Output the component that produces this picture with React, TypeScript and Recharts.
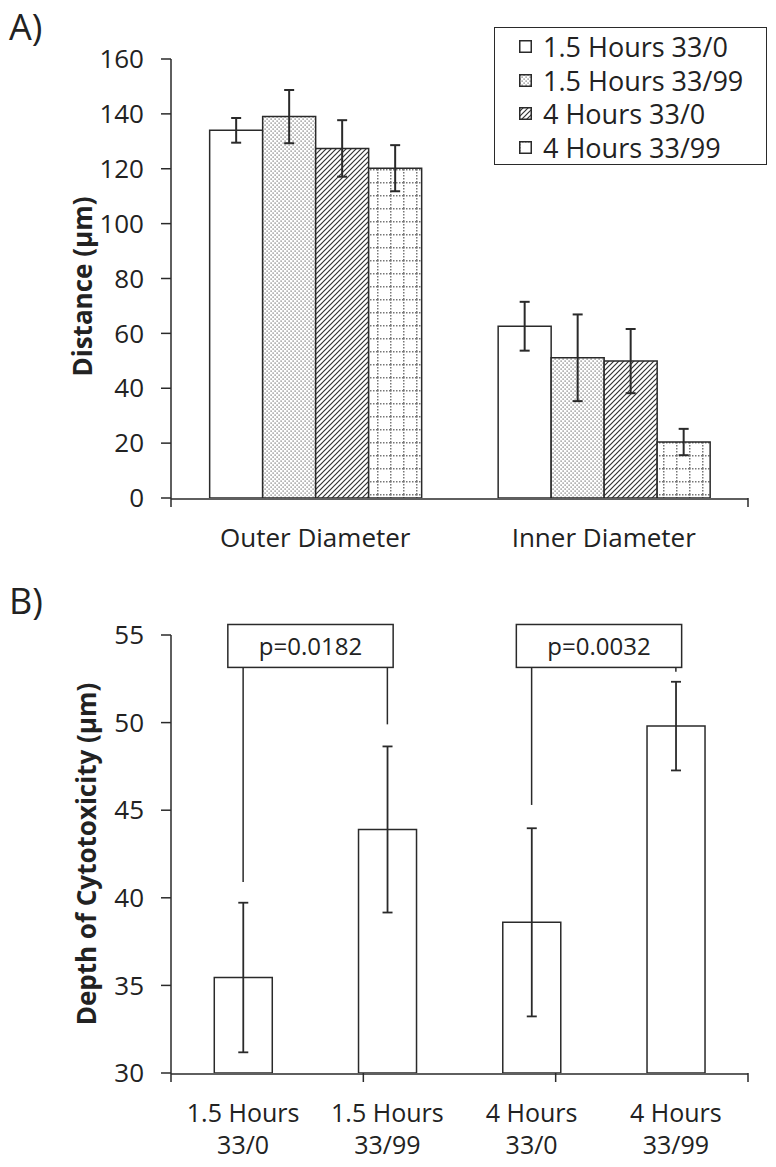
import React from "react";
import {
  BarChart,
  Bar,
  XAxis,
  YAxis,
  ErrorBar,
  Legend,
  ReferenceLine,
  ReferenceArea,
} from "recharts";

const FONT = '"Open Sans", "Noto Sans", sans-serif';
const INK = "#2a2a2a";
const TEXT = "#222";

// Panel A: distance by diameter
const DIAMETERS = ["Outer Diameter", "Inner Diameter"];
const SERIES = ["1.5 Hours 33/0", "1.5 Hours 33/99", "4 Hours 33/0", "4 Hours 33/99"];
const MEAN_15H_0 = [134.0, 62.6];
const ERR_15H_0 = [4.5, 8.9];
const MEAN_15H_99 = [139.0, 51.1];
const ERR_15H_99 = [9.7, 15.8];
const MEAN_4H_0 = [127.4, 49.9];
const ERR_4H_0 = [10.3, 11.7];
const MEAN_4H_99 = [120.2, 20.4];
const ERR_4H_99 = [8.4, 4.8];
const DISTANCE_TICKS = [0, 20, 40, 60, 80, 100, 120, 140, 160];

// Panel B: depth of cytotoxicity
const COND_HOURS = ["1.5 Hours", "1.5 Hours", "4 Hours", "4 Hours"];
const COND_RATIO = ["33/0", "33/99", "33/0", "33/99"];
const DEPTH = [35.45, 43.9, 38.6, 49.8];
const DEPTH_ERR = [4.27, 4.74, 5.37, 2.53];
const DEPTH_TICKS = [30, 35, 40, 45, 50, 55];

// significance brackets: line ends are in data units
const COMPARISONS = [
  { from: 0, to: 1, label: "p=0.0182", leftEnd: 40.9, rightEnd: 49.9 },
  { from: 2, to: 3, label: "p=0.0032", leftEnd: 45.3, rightEnd: 52.9 },
];
const P_BOX = [53.15, 55.6];

const FILLS = ["#fff", "url(#pat-dots)", "url(#pat-hatch)", "url(#pat-grid)"];
const KEYS = ["m0", "m1", "m2", "m3"];

const distanceData = DIAMETERS.map((name, i) => ({
  name,
  m0: MEAN_15H_0[i],
  e0: ERR_15H_0[i],
  m1: MEAN_15H_99[i],
  e1: ERR_15H_99[i],
  m2: MEAN_4H_0[i],
  e2: ERR_4H_0[i],
  m3: MEAN_4H_99[i],
  e3: ERR_4H_99[i],
}));

const conditions = COND_HOURS.map((h, i) => `${h} ${COND_RATIO[i]}`);
const depthData = conditions.map((name, i) => ({
  name,
  depth: DEPTH[i],
  err: DEPTH_ERR[i],
}));

function Patterns() {
  return (
    <defs>
      <pattern id="pat-dots" width="4" height="4" patternUnits="userSpaceOnUse">
        <rect width="4" height="4" fill="#fff" />
        <rect x="0.5" y="0.5" width="1.2" height="1.2" fill="#666" />
        <rect x="2.5" y="2.5" width="1.2" height="1.2" fill="#666" />
      </pattern>
      <pattern id="pat-hatch" width="5" height="5" patternUnits="userSpaceOnUse">
        <rect width="5" height="5" fill="#fff" />
        <path d="M-1,1 L1,-1 M0,5 L5,0 M4,6 L6,4" stroke="#333" strokeWidth="1.2" />
      </pattern>
      <pattern id="pat-grid" width="13" height="13" patternUnits="userSpaceOnUse">
        <rect width="13" height="13" fill="#fff" />
        <line x1="0.75" y1="0" x2="0.75" y2="13" stroke="#777" strokeWidth="1.5" strokeDasharray="1.5 1.5" />
        <line x1="0" y1="0.75" x2="13" y2="0.75" stroke="#777" strokeWidth="1.5" strokeDasharray="1.5 1.5" />
      </pattern>
    </defs>
  );
}

function AxisTitle({ viewBox, x, text, dy = 0 }: any) {
  const cy = viewBox.y + viewBox.height / 2 + dy;
  return (
    <text
      x={x}
      y={cy}
      transform={`rotate(-90, ${x}, ${cy})`}
      textAnchor="middle"
      dominantBaseline="central"
      fontFamily={FONT}
      fontWeight="bold"
      fontSize={26}
      fill={TEXT}
    >
      {text}
    </text>
  );
}

function LegendBox({ payload }: any) {
  const items = payload && payload.length ? payload : SERIES.map((value, i) => ({ value, color: FILLS[i] }));
  return (
    <div
      style={{
        border: `1.5px solid ${INK}`,
        boxSizing: "border-box",
        width: 273,
        height: 138,
        padding: "2px 0 0 24px",
        fontFamily: FONT,
        fontSize: 27,
        color: TEXT,
        background: "#fff",
      }}
    >
      {items.map((entry: any, i: number) => (
        <div key={entry.value} style={{ display: "flex", alignItems: "center", height: 33.5 }}>
          <svg width={13} height={13} style={{ marginRight: 11, flex: "none" }}>
            <rect x={0.75} y={0.75} width={11.5} height={11.5} fill={FILLS[i]} stroke={INK} strokeWidth={1.5} />
          </svg>
          <span style={{ lineHeight: 1, whiteSpace: "nowrap" }}>{entry.value}</span>
        </div>
      ))}
    </div>
  );
}

function ConditionTick({ x, y, index }: any) {
  return (
    <text x={x} y={y} textAnchor="middle" fill={TEXT} fontSize={25} fontFamily={FONT}>
      <tspan x={x} dy={0}>{COND_HOURS[index]}</tspan>
      <tspan x={x} dy={32}>{COND_RATIO[index]}</tspan>
    </text>
  );
}

function DiameterTick({ x, y, payload }: any) {
  return (
    <text x={x} y={y} textAnchor="middle" fill={TEXT} fontSize={26} fontFamily={FONT}>
      {payload.value}
    </text>
  );
}

function PBox({ x, y, width, height, label }: any) {
  // box is narrower than the two category bands it spans
  const left = x + width * 0.197;
  const right = x + width * 0.77;
  return (
    <g>
      <rect x={left} y={y} width={right - left} height={height} fill="#fff" stroke={INK} strokeWidth={1.5} />
      <text
        x={(left + right) / 2}
        y={y + height / 2}
        textAnchor="middle"
        dominantBaseline="central"
        fontFamily={FONT}
        fontSize={24}
        fill={TEXT}
      >
        {label}
      </text>
    </g>
  );
}

const tickStyle = { fill: TEXT, fontSize: 26, fontFamily: FONT };
const noLabel = () => "";

// boundary ticks live on a numeric axis stacked directly under the plot
export default function App() {
  return (
    <div style={{ position: "absolute", left: 0, top: 0, width: 776, height: 1167, background: "#fff" }}>
      <div style={{ position: "absolute", left: 9, top: 2, fontFamily: FONT, fontSize: 36, color: TEXT }}>A)</div>
      <div style={{ position: "absolute", left: 9, top: 576, fontFamily: FONT, fontSize: 36, color: TEXT }}>B)</div>

      <div style={{ position: "absolute", left: 0, top: 0 }}>
        <BarChart
          width={776}
          height={560}
          data={distanceData}
          margin={{ top: 59, right: 28, bottom: 0, left: 0 }}
          barCategoryGap="13.4%"
          barGap={0}
        >
          <Patterns />
          <XAxis
            xAxisId="b-cat"
            dataKey="name"
            height={61}
            tickLine={false}
            tickSize={0}
            tickMargin={48}
            tick={<DiameterTick />}
            axisLine={{ stroke: INK, strokeWidth: 1.5 }}
          />
          <XAxis
            xAxisId="a-grid"
            type="number"
            domain={[0, 2]}
            ticks={[0, 1, 2]}
            height={1}
            tickFormatter={noLabel}
            axisLine={false}
            tickSize={9}
            tickLine={{ stroke: INK, strokeWidth: 1.5 }}
          />
          <YAxis
            width={171}
            domain={[0, 160]}
            ticks={DISTANCE_TICKS}
            allowDataOverflow
            tickSize={10}
            tickMargin={17}
            tick={tickStyle}
            axisLine={{ stroke: INK, strokeWidth: 1.5 }}
            tickLine={{ stroke: INK, strokeWidth: 1.5 }}
            label={(p: any) => <AxisTitle viewBox={p.viewBox} x={82} dy={8} text="Distance (µm)" />}
          />
          <Legend
            layout="horizontal"
            verticalAlign="middle"
            align="center"
            content={<LegendBox />}
            wrapperStyle={{ left: 494, top: 27, width: 273, height: 138 }}
          />
          {KEYS.map((k, i) => (
            <Bar
              key={k}
              xAxisId="b-cat"
              dataKey={k}
              name={SERIES[i]}
              fill={FILLS[i]}
              stroke={INK}
              strokeWidth={1.5}
              isAnimationActive={false}
            >
              <ErrorBar dataKey={`e${i}`} width={5} stroke={INK} strokeWidth={2} />
            </Bar>
          ))}
        </BarChart>
      </div>

      <div style={{ position: "absolute", left: 0, top: 560 }}>
        <BarChart
          width={776}
          height={607}
          data={depthData}
          margin={{ top: 75, right: 28, bottom: 0, left: 0 }}
          barCategoryGap="30%"
        >
          <XAxis
            xAxisId="b-cat"
            dataKey="name"
            height={93}
            tickLine={false}
            tickSize={0}
            tickMargin={48}
            tick={<ConditionTick />}
            axisLine={{ stroke: INK, strokeWidth: 1.5 }}
          />
          <XAxis
            xAxisId="a-grid"
            type="number"
            domain={[0, 4]}
            ticks={[0, 1, 2, 3, 4]}
            height={1}
            tickFormatter={noLabel}
            axisLine={false}
            tickSize={9}
            tickLine={{ stroke: INK, strokeWidth: 1.5 }}
          />
          <YAxis
            width={171}
            domain={[30, 55]}
            ticks={DEPTH_TICKS}
            allowDataOverflow
            tickSize={10}
            tickMargin={17}
            tick={tickStyle}
            axisLine={{ stroke: INK, strokeWidth: 1.5 }}
            tickLine={{ stroke: INK, strokeWidth: 1.5 }}
            label={(p: any) => <AxisTitle viewBox={p.viewBox} x={86} text="Depth of Cytotoxicity (µm)" />}
          />
          <Bar
            xAxisId="b-cat"
            dataKey="depth"
            fill="#fff"
            stroke={INK}
            strokeWidth={1.5}
            isAnimationActive={false}
          >
            <ErrorBar dataKey="err" width={5} stroke={INK} strokeWidth={1.8} />
          </Bar>
          {COMPARISONS.map((c) => (
            <ReferenceLine
              key={`${c.label}-l`}
              xAxisId="b-cat"
              ifOverflow="visible"
              segment={[
                { x: conditions[c.from], y: P_BOX[0] },
                { x: conditions[c.from], y: c.leftEnd },
              ]}
              stroke={INK}
              strokeWidth={1.5}
            />
          ))}
          {COMPARISONS.map((c) => (
            <ReferenceLine
              key={`${c.label}-r`}
              xAxisId="b-cat"
              ifOverflow="visible"
              segment={[
                { x: conditions[c.to], y: P_BOX[0] },
                { x: conditions[c.to], y: c.rightEnd },
              ]}
              stroke={INK}
              strokeWidth={1.5}
            />
          ))}
          {COMPARISONS.map((c) => (
            <ReferenceArea
              key={`${c.label}-box`}
              xAxisId="b-cat"
              x1={conditions[c.from]}
              x2={conditions[c.to]}
              y1={P_BOX[0]}
              y2={P_BOX[1]}
              ifOverflow="visible"
              shape={(p: any) => <PBox {...p} label={c.label} />}
            />
          ))}
        </BarChart>
      </div>
    </div>
  );
}
